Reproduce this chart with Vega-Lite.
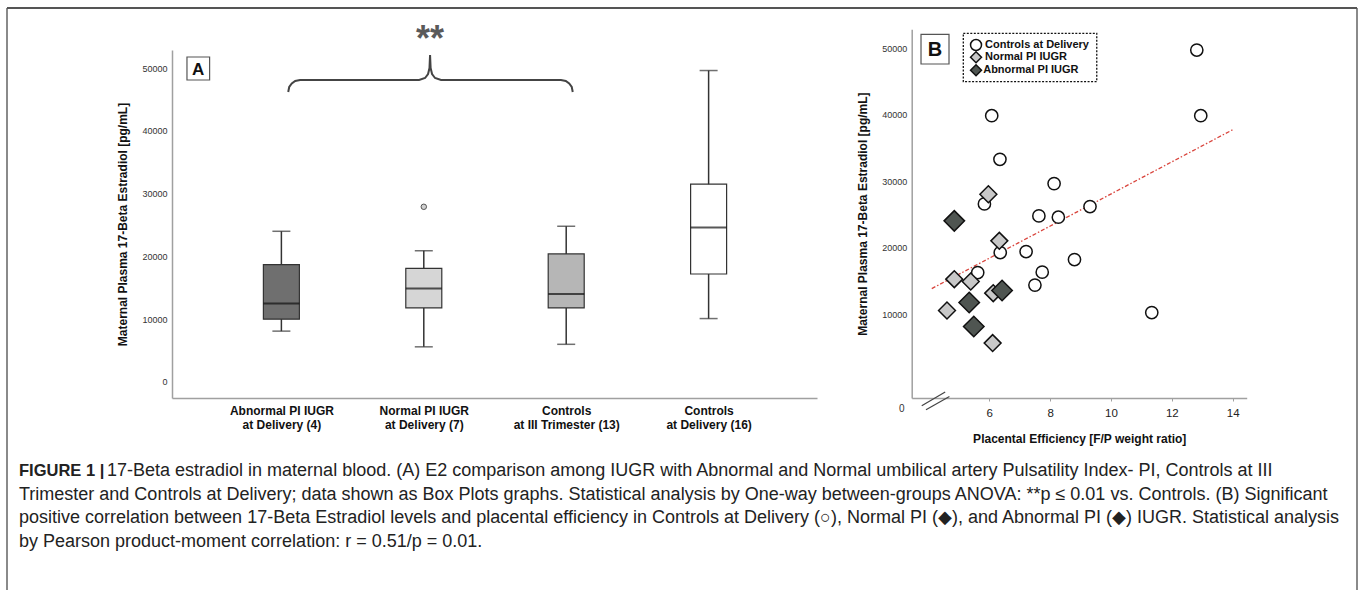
{
  "$schema": "https://vega.github.io/schema/vega-lite/v6.json",
  "width": 1350,
  "height": 582,
  "autosize": {"type": "none"},
  "padding": {"left": 7, "top": 8, "right": 3, "bottom": 0},
  "background": "white",
  "config": {
    "font": "Liberation Sans",
    "view": {"stroke": null},
    "axis": {"grid": false}
  },
  "datasets": {
    "boxes": [
      {"pos": 1, "group": "Abnormal PI IUGR at Delivery (4)", "min": 8100, "q1": 10000, "median": 12500, "q3": 18700, "max": 24000},
      {"pos": 2, "group": "Normal PI IUGR at Delivery (7)", "min": 5600, "q1": 11800, "median": 14900, "q3": 18100, "max": 20900},
      {"pos": 3, "group": "Controls at III Trimester (13)", "min": 6000, "q1": 11800, "median": 14000, "q3": 20400, "max": 24800},
      {"pos": 4, "group": "Controls at Delivery (16)", "min": 10100, "q1": 17200, "median": 24600, "q3": 31500, "max": 49600}
    ],
    "outliers": [{"pos": 2, "value": 27900}],
    "bracket": [
      {"o": 1, "x": 1.048, "y": 46180}, {"o": 2, "x": 1.055, "y": 46975}, {"o": 3, "x": 1.073, "y": 47533},
      {"o": 4, "x": 1.097, "y": 47931}, {"o": 5, "x": 1.131, "y": 48090}, {"o": 6, "x": 1.967, "y": 48090},
      {"o": 7, "x": 2.009, "y": 48409}, {"o": 8, "x": 2.030, "y": 49046}, {"o": 9, "x": 2.040, "y": 50001},
      {"o": 10, "x": 2.044, "y": 52071}, {"o": 11, "x": 2.048, "y": 50001}, {"o": 12, "x": 2.058, "y": 49046},
      {"o": 13, "x": 2.079, "y": 48409}, {"o": 14, "x": 2.121, "y": 48090}, {"o": 15, "x": 2.963, "y": 48090},
      {"o": 16, "x": 2.997, "y": 47931}, {"o": 17, "x": 3.021, "y": 47533}, {"o": 18, "x": 3.039, "y": 46975},
      {"o": 19, "x": 3.046, "y": 46180}
    ],
    "stars": [{"x": 2.044, "y": 55575, "label": "**"}],
    "panelA": [{"x": 0.337, "x2": 0.496, "y": 48090, "y2": 51753, "xm": 0.416, "ym": 49922, "label": "A"}],
    "scatter": [
      {"series": "Controls at Delivery", "pe": 12.82, "e2": 49740},
      {"series": "Controls at Delivery", "pe": 12.95, "e2": 39860},
      {"series": "Controls at Delivery", "pe": 6.08, "e2": 39860},
      {"series": "Controls at Delivery", "pe": 6.35, "e2": 33300},
      {"series": "Controls at Delivery", "pe": 8.13, "e2": 29640},
      {"series": "Controls at Delivery", "pe": 5.84, "e2": 26580},
      {"series": "Controls at Delivery", "pe": 9.31, "e2": 26180},
      {"series": "Controls at Delivery", "pe": 7.63, "e2": 24780},
      {"series": "Controls at Delivery", "pe": 8.27, "e2": 24580},
      {"series": "Controls at Delivery", "pe": 6.36, "e2": 19260},
      {"series": "Controls at Delivery", "pe": 7.21, "e2": 19410},
      {"series": "Controls at Delivery", "pe": 8.80, "e2": 18210},
      {"series": "Controls at Delivery", "pe": 5.62, "e2": 16250},
      {"series": "Controls at Delivery", "pe": 7.74, "e2": 16310},
      {"series": "Controls at Delivery", "pe": 7.50, "e2": 14360},
      {"series": "Controls at Delivery", "pe": 11.34, "e2": 10230},
      {"series": "Normal PI IUGR", "pe": 5.97, "e2": 28040},
      {"series": "Normal PI IUGR", "pe": 6.33, "e2": 21020},
      {"series": "Normal PI IUGR", "pe": 4.85, "e2": 15260},
      {"series": "Normal PI IUGR", "pe": 5.39, "e2": 14900},
      {"series": "Normal PI IUGR", "pe": 6.13, "e2": 13150},
      {"series": "Normal PI IUGR", "pe": 4.61, "e2": 10540},
      {"series": "Normal PI IUGR", "pe": 6.11, "e2": 5630},
      {"series": "Abnormal PI IUGR", "pe": 4.85, "e2": 24030},
      {"series": "Abnormal PI IUGR", "pe": 5.34, "e2": 11740},
      {"series": "Abnormal PI IUGR", "pe": 6.42, "e2": 13540},
      {"series": "Abnormal PI IUGR", "pe": 5.49, "e2": 8130}
    ],
    "fit": [{"pe": 4.11, "e2": 13840}, {"pe": 14.03, "e2": 37820}],
    "breaks": [{"x": 3.78, "y": -3800, "x2": 4.55, "y2": -1740}, {"x": 3.92, "y": -4400, "x2": 4.69, "y2": -2400}],
    "zeroB": [{"x": 3.12, "y": -4240, "label": "0"}],
    "panelB": [{"x": 3.756, "x2": 4.676, "y": 47640, "y2": 52110, "xm": 4.216, "ym": 49870, "label": "B"}],
    "legendBox": [{"x": 5.146, "x2": 9.532, "y": 44977, "y2": 52256}],
    "legendItems": [
      {"series": "Controls at Delivery", "lx": 5.564, "tx": 5.86, "ly": 50496},
      {"series": "Normal PI IUGR", "lx": 5.564, "tx": 5.86, "ly": 48647},
      {"series": "Abnormal PI IUGR", "lx": 5.564, "tx": 5.80, "ly": 46692}
    ],
    "frameSides": [{"v": 0}, {"v": 1}],
    "frameTop": [{"v": 0}],
    "capBold": [{"line": 1, "text": "FIGURE 1 |"}],
    "capFirst": [{"line": 1, "text": "17-Beta estradiol in maternal blood. (A) E2 comparison among IUGR with Abnormal and Normal umbilical artery Pulsatility Index- PI, Controls at III"}],
    "capRest": [
      {"line": 2, "text": "Trimester and Controls at Delivery; data shown as Box Plots graphs. Statistical analysis by One-way between-groups ANOVA: **p ≤ 0.01 vs. Controls. (B) Significant"},
      {"line": 3, "text": "positive correlation between 17-Beta Estradiol levels and placental efficiency in Controls at Delivery (○), Normal PI (◆), and Abnormal PI (◆) IUGR. Statistical analysis"},
      {"line": 4, "text": "by Pearson product-moment correlation: r = 0.51/p = 0.01."}
    ]
  },
  "layer": [
    {
      "layer": [
        {
          "data": {"name": "boxes"},
          "mark": {"type": "rule", "color": "#333333", "strokeWidth": 1.5},
          "encoding": {
            "x": {"field": "pos", "type": "quantitative",
              "scale": {"domain": [0.267, 4.726], "range": [165, 810], "nice": false, "zero": false},
              "axis": {"orient": "bottom", "offset": -192, "values": [1, 2, 3, 4], "title": null,
                "labelExpr": "datum.value == 1 ? ['Abnormal PI IUGR', 'at Delivery (4)'] : datum.value == 2 ? ['Normal PI IUGR', 'at Delivery (7)'] : datum.value == 3 ? ['Controls', 'at III Trimester (13)'] : ['Controls', 'at Delivery (16)']",
                "ticks": false, "domainColor": "#a0a0a0", "domainWidth": 1.5, "labelFontSize": 12, "labelFontWeight": "bold",
                "labelColor": "#111111", "labelPadding": 7, "labelLineHeight": 14, "labelFlush": false, "labelOverlap": false}},
            "y": {"field": "min", "type": "quantitative",
              "scale": {"domain": [-2550, 52870], "range": [390, 42], "nice": false, "zero": false},
              "axis": {"orient": "left", "offset": -165, "values": [0, 10000, 20000, 30000, 40000, 50000], "format": "d",
                "ticks": false, "domainColor": "#a0a0a0", "domainWidth": 1.5, "labelFontSize": 9, "labelColor": "#333333",
                "labelPadding": 5, "labelFlush": false,
                "title": "Maternal Plasma 17-Beta Estradiol [pg/mL]", "titleFontSize": 12, "titleFontWeight": "bold",
                "titleColor": "#111111", "titlePadding": 12}},
            "y2": {"field": "max"}
          }
        },
        {
          "data": {"name": "boxes"},
          "mark": {"type": "bar", "width": 36, "stroke": "#333333", "strokeWidth": 1.2},
          "encoding": {
            "x": {"field": "pos", "type": "quantitative"},
            "y": {"field": "q1", "type": "quantitative"},
            "y2": {"field": "q3"},
            "fill": {"field": "group", "type": "nominal",
              "scale": {"domain": ["Abnormal PI IUGR at Delivery (4)", "Normal PI IUGR at Delivery (7)", "Controls at III Trimester (13)", "Controls at Delivery (16)"],
                "range": ["#6f6f6f", "#d6d6d6", "#b6b6b6", "#ffffff"]},
              "legend": null}
          }
        },
        {
          "data": {"name": "boxes"},
          "mark": {"type": "tick", "orient": "horizontal", "size": 36, "thickness": 2, "color": "#111111"},
          "encoding": {
            "x": {"field": "pos", "type": "quantitative"},
            "y": {"field": "median", "type": "quantitative"}
          }
        },
        {
          "data": {"name": "boxes"},
          "mark": {"type": "tick", "orient": "horizontal", "size": 18, "thickness": 1.5, "color": "#333333"},
          "encoding": {
            "x": {"field": "pos", "type": "quantitative"},
            "y": {"field": "min", "type": "quantitative"}
          }
        },
        {
          "data": {"name": "boxes"},
          "mark": {"type": "tick", "orient": "horizontal", "size": 18, "thickness": 1.5, "color": "#333333"},
          "encoding": {
            "x": {"field": "pos", "type": "quantitative"},
            "y": {"field": "max", "type": "quantitative"}
          }
        },
        {
          "data": {"name": "outliers"},
          "mark": {"type": "point", "shape": "circle", "filled": true, "fill": "#d0d0d0", "stroke": "#555555", "strokeWidth": 1, "size": 30, "opacity": 1},
          "encoding": {
            "x": {"field": "pos", "type": "quantitative"},
            "y": {"field": "value", "type": "quantitative"}
          }
        },
        {
          "data": {"name": "bracket"},
          "mark": {"type": "line", "color": "#444444", "strokeWidth": 2},
          "encoding": {
            "x": {"field": "x", "type": "quantitative"},
            "y": {"field": "y", "type": "quantitative"},
            "order": {"field": "o", "type": "quantitative"}
          }
        },
        {
          "data": {"name": "stars"},
          "mark": {"type": "text", "fontSize": 36, "fontWeight": "bold", "color": "#5a5a5a", "baseline": "middle", "align": "center", "dy": 7},
          "encoding": {
            "x": {"field": "x", "type": "quantitative"},
            "y": {"field": "y", "type": "quantitative"},
            "text": {"field": "label"}
          }
        },
        {
          "data": {"name": "panelA"},
          "mark": {"type": "rect", "fill": "white", "stroke": "#555555", "strokeWidth": 1.2},
          "encoding": {
            "x": {"field": "x", "type": "quantitative"},
            "x2": {"field": "x2"},
            "y": {"field": "y", "type": "quantitative"},
            "y2": {"field": "y2"}
          }
        },
        {
          "data": {"name": "panelA"},
          "mark": {"type": "text", "fontSize": 17, "fontWeight": "bold", "color": "#111111", "baseline": "middle", "align": "center", "dy": 1},
          "encoding": {
            "x": {"field": "xm", "type": "quantitative"},
            "y": {"field": "ym", "type": "quantitative"},
            "text": {"field": "label"}
          }
        }
      ]
    },
    {
      "layer": [
        {
          "data": {"name": "fit"},
          "mark": {"type": "line", "color": "#d9453d", "strokeWidth": 1.3, "strokeDash": [4, 2, 1.5, 2]},
          "encoding": {
            "x": {"field": "pe", "type": "quantitative",
              "scale": {"domain": [3.45, 14.46], "range": [904.7, 1239.7], "nice": false, "zero": false},
              "axis": {"orient": "bottom", "offset": -192, "values": [6, 8, 10, 12, 14], "format": "d",
                "tickSize": 3, "tickColor": "#a0a0a0", "domainColor": "#a0a0a0", "domainWidth": 1.5,
                "labelFontSize": 11.5, "labelColor": "#222222", "labelPadding": 6, "labelFlush": false,
                "title": "Placental Efficiency [F/P weight ratio]", "titleFontSize": 12, "titleFontWeight": "bold",
                "titleColor": "#111111", "titlePadding": 15}},
            "y": {"field": "e2", "type": "quantitative",
              "scale": {"domain": [-2630, 52860], "range": [390, 21.3], "nice": false, "zero": false},
              "axis": {"orient": "left", "offset": -904.7, "values": [10000, 20000, 30000, 40000, 50000], "format": "d",
                "ticks": false, "domainColor": "#a0a0a0", "domainWidth": 1.5, "labelFontSize": 9, "labelColor": "#333333",
                "labelPadding": 5, "labelFlush": false,
                "title": "Maternal Plasma 17-Beta Estradiol [pg/mL]", "titleFontSize": 12, "titleFontWeight": "bold",
                "titleColor": "#111111", "titlePadding": 12}}
          }
        },
        {
          "data": {"name": "breaks"},
          "mark": {"type": "rule", "color": "#444444", "strokeWidth": 1.2},
          "encoding": {
            "x": {"field": "x", "type": "quantitative"},
            "x2": {"field": "x2"},
            "y": {"field": "y", "type": "quantitative"},
            "y2": {"field": "y2"}
          }
        },
        {
          "data": {"name": "zeroB"},
          "mark": {"type": "text", "fontSize": 10, "color": "#333333", "baseline": "middle", "align": "center"},
          "encoding": {
            "x": {"field": "x", "type": "quantitative"},
            "y": {"field": "y", "type": "quantitative"},
            "text": {"field": "label"}
          }
        },
        {
          "data": {"name": "panelB"},
          "mark": {"type": "rect", "fill": "white", "stroke": "#555555", "strokeWidth": 1.2},
          "encoding": {
            "x": {"field": "x", "type": "quantitative"},
            "x2": {"field": "x2"},
            "y": {"field": "y", "type": "quantitative"},
            "y2": {"field": "y2"}
          }
        },
        {
          "data": {"name": "panelB"},
          "mark": {"type": "text", "fontSize": 20, "fontWeight": "bold", "color": "#111111", "baseline": "middle", "align": "center", "dy": 1},
          "encoding": {
            "x": {"field": "xm", "type": "quantitative"},
            "y": {"field": "ym", "type": "quantitative"},
            "text": {"field": "label"}
          }
        },
        {
          "data": {"name": "legendBox"},
          "mark": {"type": "rect", "fill": "white", "stroke": "#111111", "strokeWidth": 1.3, "strokeDash": [2, 1.5]},
          "encoding": {
            "x": {"field": "x", "type": "quantitative"},
            "x2": {"field": "x2"},
            "y": {"field": "y", "type": "quantitative"},
            "y2": {"field": "y2"}
          }
        },
        {
          "data": {"name": "scatter"},
          "mark": {"type": "point", "filled": true, "stroke": "#111111", "strokeWidth": 1.5, "opacity": 1},
          "encoding": {
            "x": {"field": "pe", "type": "quantitative"},
            "y": {"field": "e2", "type": "quantitative"},
            "shape": {"field": "series", "type": "nominal",
              "scale": {"domain": ["Controls at Delivery", "Normal PI IUGR", "Abnormal PI IUGR"], "range": ["circle", "diamond", "diamond"]},
              "legend": null},
            "fill": {"field": "series", "type": "nominal",
              "scale": {"domain": ["Controls at Delivery", "Normal PI IUGR", "Abnormal PI IUGR"], "range": ["#ffffff", "#c8c8c8", "#4f5551"]},
              "legend": null},
            "size": {"field": "series", "type": "nominal",
              "scale": {"domain": ["Controls at Delivery", "Normal PI IUGR", "Abnormal PI IUGR"], "range": [150, 420, 420]},
              "legend": null}
          }
        },
        {
          "data": {"name": "legendItems"},
          "mark": {"type": "point", "filled": true, "stroke": "#111111", "strokeWidth": 1.5, "opacity": 1, "size": 120},
          "encoding": {
            "x": {"field": "lx", "type": "quantitative"},
            "y": {"field": "ly", "type": "quantitative"},
            "shape": {"field": "series", "type": "nominal", "legend": null},
            "fill": {"field": "series", "type": "nominal", "legend": null}
          }
        },
        {
          "data": {"name": "legendItems"},
          "mark": {"type": "text", "fontSize": 11, "fontWeight": "bold", "color": "#111111", "align": "left", "baseline": "middle"},
          "encoding": {
            "x": {"field": "tx", "type": "quantitative"},
            "y": {"field": "ly", "type": "quantitative"},
            "text": {"field": "series"}
          }
        }
      ]
    },
    {
      "layer": [
        {
          "data": {"name": "frameSides"},
          "mark": {"type": "rule", "color": "#8a8a8a", "strokeWidth": 2},
          "encoding": {
            "x": {"field": "v", "type": "quantitative", "scale": {"domain": [0, 1], "range": [0, 1350]}, "axis": null}
          }
        },
        {
          "data": {"name": "frameTop"},
          "mark": {"type": "rule", "color": "#555555", "strokeWidth": 2},
          "encoding": {
            "y": {"field": "v", "type": "quantitative", "scale": {"domain": [0, 1], "range": [0, 582]}, "axis": null}
          }
        }
      ]
    },
    {
      "layer": [
        {
          "data": {"name": "capBold"},
          "mark": {"type": "text", "align": "left", "baseline": "middle", "fontSize": 16.5, "fontWeight": "bold", "color": "#222222"},
          "encoding": {
            "x": {"datum": 0, "type": "quantitative", "scale": {"domain": [0, 1], "range": [12, 1340]}, "axis": null},
            "y": {"field": "line", "type": "quantitative", "scale": {"domain": [1, 4], "range": [463, 533.5]}, "axis": null},
            "text": {"field": "text"}
          }
        },
        {
          "data": {"name": "capFirst"},
          "mark": {"type": "text", "align": "left", "baseline": "middle", "fontSize": 18, "color": "#222222", "dx": 88},
          "encoding": {
            "x": {"datum": 0, "type": "quantitative"},
            "y": {"field": "line", "type": "quantitative"},
            "text": {"field": "text"}
          }
        },
        {
          "data": {"name": "capRest"},
          "mark": {"type": "text", "align": "left", "baseline": "middle", "fontSize": 18, "color": "#222222"},
          "encoding": {
            "x": {"datum": 0, "type": "quantitative"},
            "y": {"field": "line", "type": "quantitative"},
            "text": {"field": "text"}
          }
        }
      ]
    }
  ],
  "resolve": {
    "scale": {"x": "independent", "y": "independent", "fill": "independent", "shape": "independent", "size": "independent"},
    "axis": {"x": "independent", "y": "independent"},
    "legend": {"fill": "independent", "shape": "independent", "size": "independent"}
  }
}
